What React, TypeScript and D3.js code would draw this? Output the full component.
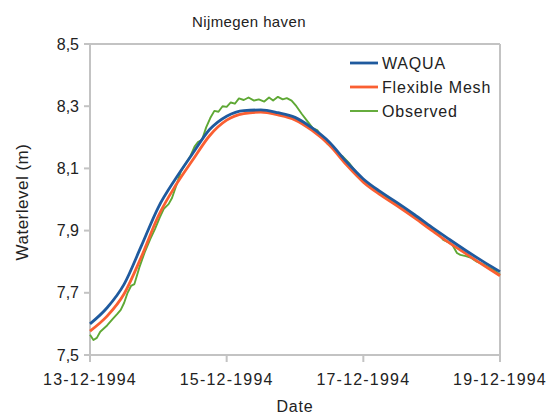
import * as d3 from "d3";

// day offsets from 13-12-1994 00:00
const MODEL_DAYS = [
  0, 0.25, 0.5, 0.75, 1, 1.25, 1.5, 1.75, 2, 2.25, 2.5, 2.75, 3, 3.25, 3.5,
  3.75, 4, 4.25, 4.5, 4.75, 5, 5.25, 5.5, 5.75, 6,
];
const WAQUA = [
  7.6, 7.652, 7.728, 7.85, 7.975, 8.066, 8.147, 8.225, 8.268, 8.286, 8.288,
  8.279, 8.264, 8.23, 8.185, 8.122, 8.066, 8.025, 7.989, 7.951, 7.911, 7.873,
  7.836, 7.801, 7.768,
];
const FLEX_MESH = [
  7.577, 7.625, 7.697, 7.815, 7.947, 8.044, 8.126, 8.205, 8.255, 8.276, 8.281,
  8.272, 8.256, 8.222, 8.176, 8.112, 8.056, 8.015, 7.979, 7.941, 7.901, 7.862,
  7.826, 7.79, 7.755,
];
const OBS_DAYS = [
  0, 0.05, 0.1, 0.15, 0.25, 0.33, 0.4, 0.45, 0.5, 0.55, 0.6, 0.65, 0.72, 0.8,
  0.88, 0.95, 1.02, 1.08, 1.15, 1.2, 1.27, 1.33, 1.4, 1.47, 1.53, 1.58, 1.64,
  1.7, 1.76, 1.82, 1.88, 1.94, 2, 2.06, 2.12, 2.18, 2.25, 2.32, 2.4, 2.47, 2.55,
  2.62, 2.68, 2.75, 2.82, 2.88, 2.95, 3.02, 3.1, 3.18, 3.26, 3.33, 3.4, 3.48,
  3.55, 3.62, 3.7, 3.8, 3.88, 3.95, 4.02, 4.1, 4.18, 4.25, 4.33, 4.42, 4.5,
  4.58, 4.66, 4.75, 4.83, 4.92, 5, 5.08, 5.17, 5.25, 5.3, 5.37, 5.42, 5.5, 5.58,
  5.66, 5.75, 5.83, 5.92, 6,
];
const OBSERVED = [
  7.565, 7.548, 7.555, 7.575, 7.595, 7.615, 7.632, 7.645, 7.668, 7.7, 7.722,
  7.728, 7.78, 7.83, 7.872, 7.905, 7.942, 7.97, 7.985, 8.005, 8.05, 8.09, 8.115,
  8.14, 8.17, 8.185, 8.192, 8.232, 8.262, 8.285, 8.282, 8.3, 8.298, 8.312,
  8.308, 8.325, 8.32, 8.328, 8.318, 8.322, 8.315, 8.328, 8.318, 8.33, 8.322,
  8.326, 8.318, 8.3, 8.275, 8.252, 8.23, 8.222, 8.2, 8.178, 8.165, 8.15, 8.138,
  8.115, 8.092, 8.072, 8.058, 8.04, 8.034, 8.022, 8.01, 7.995, 7.985, 7.968,
  7.962, 7.948, 7.93, 7.918, 7.905, 7.895, 7.87, 7.862, 7.855, 7.828, 7.822,
  7.818, 7.812, 7.8, 7.792, 7.783, 7.772, 7.758,
];

const X_TICKS = [0, 2, 4, 6];
const X_LABELS = ["13-12-1994", "15-12-1994", "17-12-1994", "19-12-1994"];
const Y_TICKS = [7.5, 7.7, 7.9, 8.1, 8.3, 8.5];
const Y_LABELS = ["7,5", "7,7", "7,9", "8,1", "8,3", "8,5"];

const SERIES = [
  { name: "WAQUA", color: "#1f5a9e", width: 2.8 },
  { name: "Flexible Mesh", color: "#fa5f32", width: 2.8 },
  { name: "Observed", color: "#5ea834", width: 1.9 },
];

const W = 552;
const H = 414;
const M = { left: 90, right: 500, top: 44, bottom: 355 };
const FONT = "'Liberation Sans', Arial, sans-serif";
const AXIS = "#c3c3c3";
const TEXT = "#222";

export default function App() {
  const x = d3.scaleLinear().domain([0, 6]).range([M.left, M.right]);
  const y = d3.scaleLinear().domain([7.5, 8.5]).range([M.bottom, M.top]);

  const straight = d3
    .line<[number, number]>()
    .x((d) => x(d[0]))
    .y((d) => y(d[1]));
  const smooth = d3
    .line<[number, number]>()
    .x((d) => x(d[0]))
    .y((d) => y(d[1]))
    .curve(d3.curveMonotoneX);

  const waqua = MODEL_DAYS.map((d, i) => [d, WAQUA[i]] as [number, number]);
  const flex = MODEL_DAYS.map((d, i) => [d, FLEX_MESH[i]] as [number, number]);
  const obs = OBS_DAYS.map((d, i) => [d, OBSERVED[i]] as [number, number]);

  return (
    <div style={{ position: "fixed", left: 0, top: 0 }}>
      <svg width={W} height={H} style={{ display: "block", background: "#fff" }}>
        <text x={249} y={27} textAnchor="middle" fontFamily={FONT} fontSize={15} letterSpacing={0.4} fill={TEXT}>
          Nijmegen haven
        </text>

        {/* frame */}
        <line x1={M.left} x2={M.right} y1={M.top} y2={M.top} stroke={AXIS} strokeWidth={2} />
        <line x1={M.right} x2={M.right} y1={M.top} y2={M.bottom} stroke={AXIS} strokeWidth={2} />
        <line x1={M.left} x2={M.left} y1={M.top} y2={M.bottom} stroke={AXIS} strokeWidth={2} />
        <line x1={M.left} x2={M.right} y1={M.bottom} y2={M.bottom} stroke={AXIS} strokeWidth={2} />

        {Y_TICKS.map((t, i) => (
          <g key={t}>
            <line x1={M.left - 6} x2={M.left} y1={y(t)} y2={y(t)} stroke={AXIS} strokeWidth={2} />
            <text x={79} y={y(t)} dy="0.35em" textAnchor="end" fontFamily={FONT} fontSize={16} fill={TEXT}>
              {Y_LABELS[i]}
            </text>
          </g>
        ))}
        {X_TICKS.map((t, i) => (
          <g key={t}>
            <line x1={x(t)} x2={x(t)} y1={M.bottom} y2={M.bottom + 7} stroke={AXIS} strokeWidth={2} />
            <text x={x(t)} y={385} textAnchor="middle" fontFamily={FONT} fontSize={16} letterSpacing={1.2} fill={TEXT}>
              {X_LABELS[i]}
            </text>
          </g>
        ))}

        <text x={295} y={412} textAnchor="middle" fontFamily={FONT} fontSize={16} letterSpacing={0.8} fill={TEXT}>
          Date
        </text>
        <text
          transform="translate(28,202) rotate(-90)"
          textAnchor="middle"
          fontFamily={FONT}
          fontSize={17}
          letterSpacing={0.5}
          fill={TEXT}
        >
          Waterlevel (m)
        </text>

        <path d={straight(obs) ?? ""} fill="none" stroke={SERIES[2].color} strokeWidth={SERIES[2].width} strokeLinejoin="round" />
        <path d={smooth(flex) ?? ""} fill="none" stroke={SERIES[1].color} strokeWidth={SERIES[1].width} />
        <path d={smooth(waqua) ?? ""} fill="none" stroke={SERIES[0].color} strokeWidth={SERIES[0].width} />

        {SERIES.map((s, i) => (
          <g key={s.name} transform={`translate(350, ${63 + i * 24})`}>
            <line x1={0} x2={28} stroke={s.color} strokeWidth={s.width} />
            <text x={32} dy="0.35em" fontFamily={FONT} fontSize={16} letterSpacing={0.8} fill={TEXT}>
              {s.name}
            </text>
          </g>
        ))}
      </svg>
    </div>
  );
}
